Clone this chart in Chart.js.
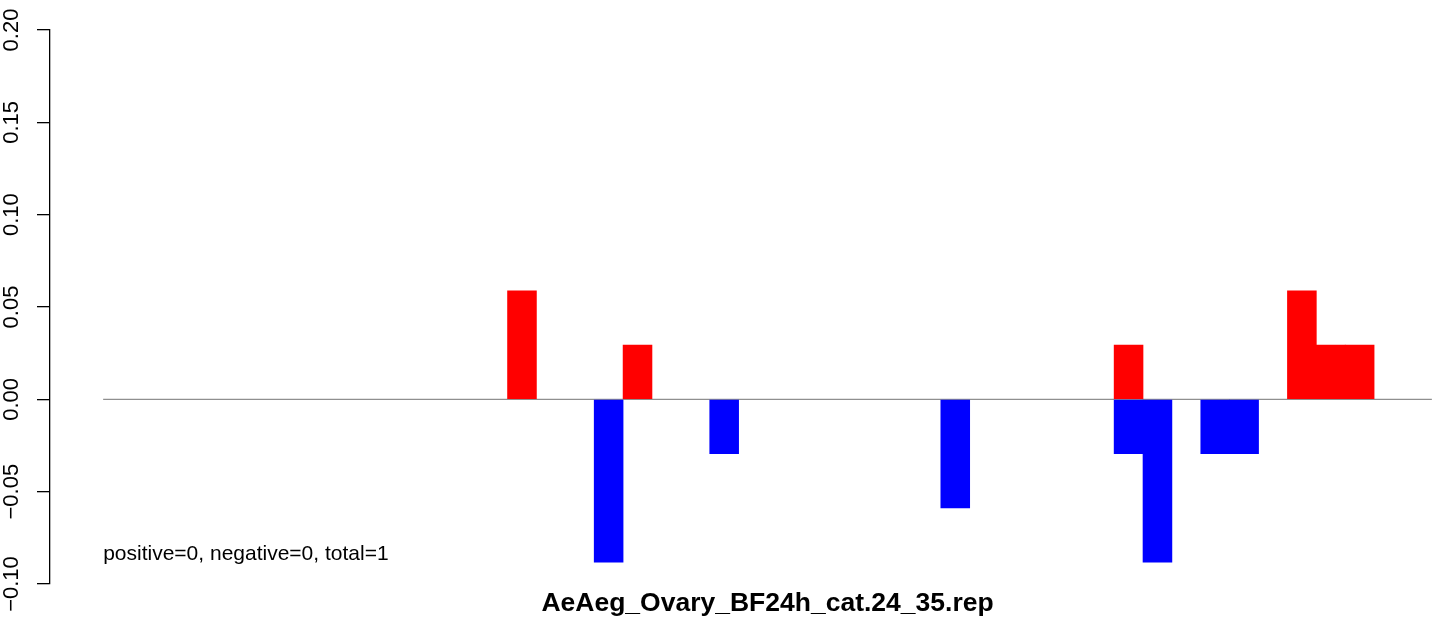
<!DOCTYPE html>
<html>
<head>
<meta charset="utf-8">
<title>AeAeg_Ovary_BF24h_cat.24_35.rep</title>
<script src="https://cdn.jsdelivr.net/npm/chart.js@4/dist/chart.umd.min.js"></script>
<style>
  html, body { margin: 0; padding: 0; background: #fff; }
  #wrap { width: 1444px; height: 618px; position: relative; }
</style>
</head>
<body>
<div id="wrap"><canvas id="chart"></canvas></div>
<script>
// one slot per bin, 46 bins; null = no bar
const slotCount = 46;
const redValues = [
  null, null, null, null, null, null, null, null, null, null,
  null, null, null, null, 0.0588, null, null, null, 0.0294, null,
  null, null, null, null, null, null, null, null, null, null,
  null, null, null, null, null, 0.0294, null, null, null, null,
  null, 0.0588, 0.0294, 0.0294, null, null
];
const blueValues = [
  null, null, null, null, null, null, null, null, null, null,
  null, null, null, null, null, null, null, -0.0882, null, null,
  null, -0.0294, null, null, null, null, null, null, null, -0.0588,
  null, null, null, null, null, -0.0294, -0.0882, null, -0.0294, -0.0294,
  null, null, null, null, null, null
];
const yTicks = [-0.10, -0.05, 0.00, 0.05, 0.10, 0.15, 0.20];
const chartTitle = 'AeAeg_Ovary_BF24h_cat.24_35.rep';
const noteText = 'positive=0, negative=0, total=1';

const FONT = "'Liberation Sans', Arial, Helvetica, sans-serif";

// slot i is drawn centred on x = i + 0.5
const toPoints = vals => vals.map((v, i) => ({ x: i + 0.5, y: v }));

// title under the plot + the count note, placed with the chart's own scales
const textPlugin = {
  id: 'rText',
  afterDraw(chart) {
    const { ctx, scales: { x, y } } = chart;
    ctx.save();
    ctx.fillStyle = '#000';
    ctx.font = `bold 26.5px ${FONT}`;
    ctx.textAlign = 'center';
    ctx.textBaseline = 'alphabetic';
    ctx.fillText(chartTitle, x.getPixelForValue(slotCount / 2), 611);
    ctx.font = `21px ${FONT}`;
    ctx.textAlign = 'left';
    ctx.fillText(noteText, x.getPixelForValue(0), y.getPixelForValue(-0.087));
    ctx.restore();
  }
};

new Chart(document.getElementById('chart'), {
  type: 'bar',
  data: {
    datasets: [
      {
        label: 'up',
        data: toPoints(redValues),
        backgroundColor: '#ff0000',
        borderWidth: 0,
        grouped: false,
        barPercentage: 1,
        categoryPercentage: 1,
        order: 1
      },
      {
        label: 'down',
        data: toPoints(blueValues),
        backgroundColor: '#0000ff',
        borderWidth: 0,
        grouped: false,
        barPercentage: 1,
        categoryPercentage: 1,
        order: 1
      },
      {
        type: 'line',
        label: 'zero',
        data: [{ x: 0, y: 0 }, { x: slotCount, y: 0 }],
        borderColor: '#8f8f8f',
        borderWidth: 1.4,
        pointRadius: 0,
        order: 2
      }
    ]
  },
  options: {
    responsive: true,
    maintainAspectRatio: false,
    animation: false,
    layout: { padding: { top: 30, bottom: 34, left: 0, right: 0 } },
    plugins: {
      legend: { display: false },
      tooltip: { enabled: false },
      title: { display: false }
    },
    scales: {
      x: {
        type: 'linear',
        display: false,
        offset: false,
        min: -1.84,
        max: 46.42,
        ticks: { stepSize: 10 }
      },
      y: {
        min: -0.1,
        max: 0.2,
        afterFit(scale) { scale.width = 50; },
        afterBuildTicks(scale) { scale.ticks = yTicks.map(v => ({ value: v })); },
        border: { display: true, color: '#000', width: 1.3 },
        grid: {
          drawOnChartArea: false,
          drawTicks: true,
          tickLength: 13,
          color: '#000',
          lineWidth: 1.3
        },
        ticks: {
          minRotation: 90,
          maxRotation: 90,
          crossAlign: 'center',
          padding: -3,
          color: '#000',
          font: { family: FONT, size: 22 },
          callback: v => v.toFixed(2).replace('-', '\u2212')
        }
      }
    }
  },
  plugins: [textPlugin]
});
</script>
</body>
</html>
